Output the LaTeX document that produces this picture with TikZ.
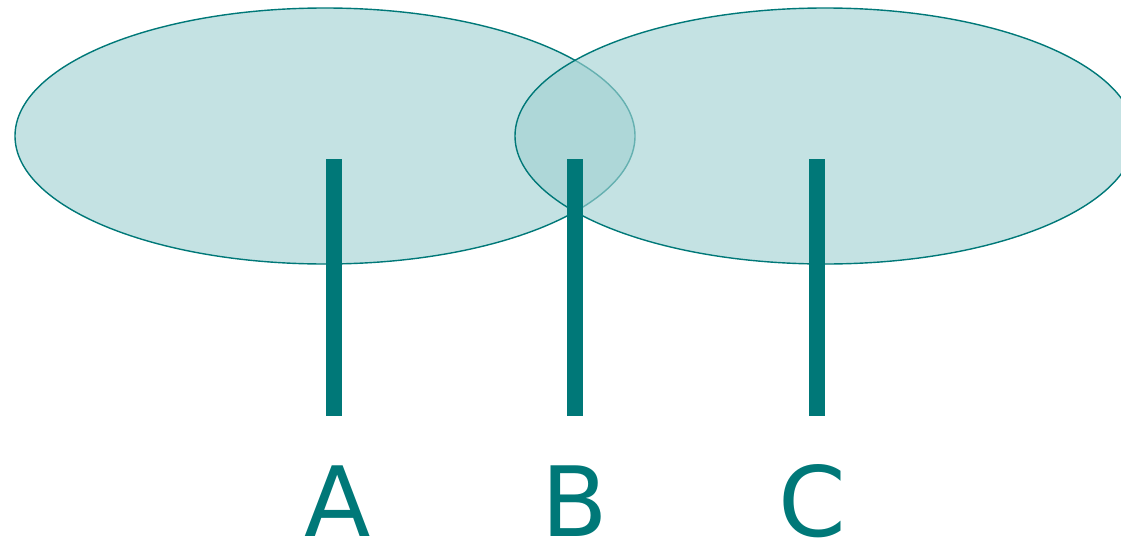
\documentclass[tikz,border=0pt]{standalone}
\usepackage{fontspec}
\setmainfont{DejaVu Sans}
\usepackage{xcolor}
\usetikzlibrary{shapes.geometric}
\definecolor{tealline}{RGB}{0,120,120}
\definecolor{tealfill}{RGB}{161,209,210}

\begin{document}
\begin{tikzpicture}[x=1pt,y=-1pt,
      blob/.style={ellipse,draw=tealline,line width=1.4pt,fill=tealfill,fill opacity=0.63,
            draw opacity=1,minimum width=620pt,minimum height=256pt,inner sep=0pt},
      bar/.style={fill=tealline,minimum width=16pt,minimum height=257pt,inner sep=0pt},
      lbl/.style={text=tealline,anchor=base,inner sep=0pt,font=\fontsize{97}{100}\selectfont}
]
\useasboundingbox (0,0) rectangle (1121,541);
\node[blob] (left) at (325,136) {};
\node[blob] (right) at (825,136) {};
\foreach \name/\x/\lx in {A/334/338,B/575/575,C/817/812.5} {
      \node[bar] (bar\name) at (\x,287.5) {};
      \node[lbl] (lab\name) at (\lx,536.5) {\name};
}
\end{tikzpicture}
\end{document}
